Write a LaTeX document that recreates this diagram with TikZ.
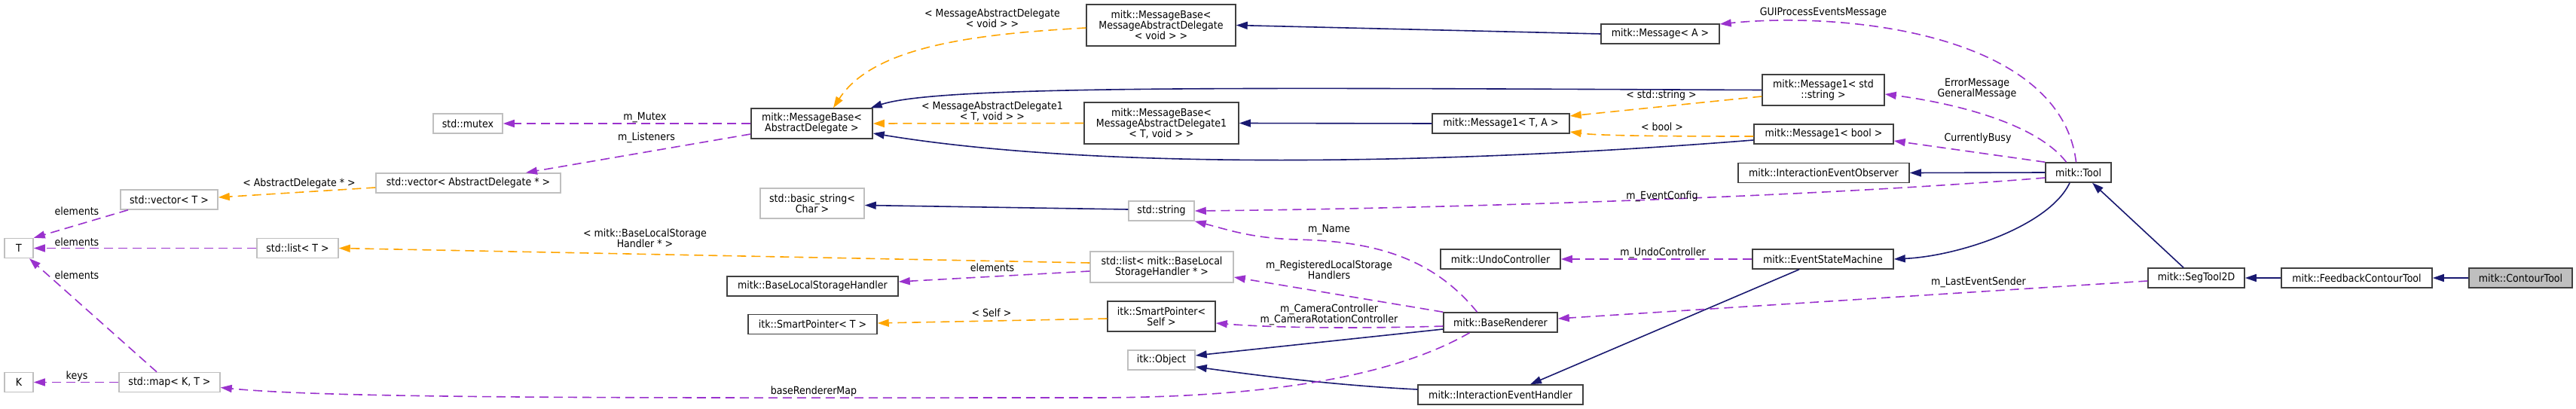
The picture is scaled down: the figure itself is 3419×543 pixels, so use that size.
\documentclass[tikz,border=0pt]{standalone}
\usepackage{fontspec}
\setmainfont{DejaVu Sans}[FakeStretch=0.9]
\usetikzlibrary{arrows.meta}
\definecolor{inhblue}{HTML}{191970}
\definecolor{tplorange}{HTML}{FFA500}
\definecolor{usepurple}{HTML}{9A32CD}
\definecolor{extgrey}{HTML}{BFBFBF}
\begin{document}
\begin{tikzpicture}[x=1pt, y=-1pt,
  every node/.style={font=\fontsize{14}{14}\selectfont, align=center, inner sep=0pt},
  cls/.style={draw=black!75, line width=1.5pt, fill=white, minimum height=26pt},
  extcls/.style={cls, draw=extgrey},
  curcls/.style={cls, fill=extgrey},
  lbl/.style={inner sep=0pt},
  inherit/.style={draw=inhblue, line width=1.6pt, -{Triangle[length=15pt,width=10pt]}},
  templ/.style={draw=tplorange, line width=1.6pt, dash pattern=on 12pt off 7pt, -{Triangle[length=15pt,width=10pt]}},
  usage/.style={draw=usepurple, line width=1.6pt, dash pattern=on 12pt off 7pt, -{Triangle[length=15pt,width=10pt]}}]
\useasboundingbox (0,0) rectangle (3419,543);
% classes
\node[extcls, minimum width=38pt] (t) at (25,329.5) {T};
\node[extcls, minimum width=38pt] (k) at (25,507.5) {K};
\node[extcls, minimum width=129pt] (vect) at (224.5,265) {std::vector< T >};
\node[extcls, minimum width=108pt] (listt) at (395,329.5) {std::list< T >};
\node[extcls, minimum width=134pt] (mapkt) at (225,507.5) {std::map< K, T >};
\node[extcls, minimum width=92pt] (mutex) at (621,164) {std::mutex};
\node[extcls, minimum width=245pt] (vecad) at (621.5,243) {std::vector< AbstractDelegate * >};
\node[cls, minimum width=161pt, minimum height=40pt] (mbad) at (1077.5,164) {mitk::MessageBase<\\AbstractDelegate >};
\node[extcls, minimum width=138pt, minimum height=40pt] (bstr) at (1078,270) {std::basic\_string<\\Char >};
\node[cls, minimum width=227pt] (blsh) at (1078.5,380) {mitk::BaseLocalStorageHandler};
\node[cls, minimum width=171pt] (spt) at (1078.5,430.5) {itk::SmartPointer< T >};
\node[cls, minimum width=198pt, minimum height=55pt] (mbmad) at (1541,33.5) {mitk::MessageBase<\\MessageAbstractDelegate\\< void > >};
\node[cls, minimum width=205pt, minimum height=55pt] (mbmad1) at (1541.5,163.5) {mitk::MessageBase<\\MessageAbstractDelegate1\\< T, void > >};
\node[extcls, minimum width=87pt] (str) at (1541.5,280) {std::string};
\node[extcls, minimum width=190pt, minimum height=41pt] (listblsh) at (1542,354.5) {std::list< mitk::BaseLocal\\StorageHandler * >};
\node[cls, minimum width=143pt, minimum height=40pt] (spself) at (1541.5,420) {itk::SmartPointer<\\Self >};
\node[extcls, minimum width=89pt] (itkobj) at (1541.5,478) {itk::Object};
\node[cls, minimum width=182pt] (msg1ta) at (1992,164) {mitk::Message1< T, A >};
\node[cls, minimum width=159pt] (undo) at (1991.5,344) {mitk::UndoController};
\node[cls, minimum width=151pt] (br) at (1991.5,428) {mitk::BaseRenderer};
\node[cls, minimum width=219pt] (ieh) at (1991.5,524) {mitk::InteractionEventHandler};
\node[cls, minimum width=157pt] (msga) at (2203.5,45) {mitk::Message< A >};
\node[cls, minimum width=162pt, minimum height=41pt] (msg1str) at (2420,119.5) {mitk::Message1< std\\::string >};
\node[cls, minimum width=185pt] (msg1bool) at (2420.5,178) {mitk::Message1< bool >};
\node[cls, minimum width=227pt] (ieo) at (2420.5,229.5) {mitk::InteractionEventObserver};
\node[cls, minimum width=187pt] (esm) at (2419.5,344) {mitk::EventStateMachine};
\node[cls, minimum width=87pt] (tool) at (2758.5,229) {mitk::Tool};
\node[cls, minimum width=128pt] (seg) at (2915,369) {mitk::SegTool2D};
\node[cls, minimum width=200pt] (fct) at (3128,369) {mitk::FeedbackContourTool};
\node[curcls, minimum width=137pt] (ct) at (3345.5,369) {mitk::ContourTool};
% inheritance
\draw[inherit] (msga.west) -- (mbmad.east);
\draw[inherit] (msg1ta.west) -- (mbmad1.east);
\draw[inherit] (msg1str.west) .. controls (1700,117) and (1250,112) .. ([xshift=-3pt]mbad.north east);
\draw[inherit] ([yshift=-8pt]msg1bool.west) .. controls (1900,220) and (1450,225) .. ([yshift=-13pt]mbad.east);
\draw[inherit] (tool.west) -- (ieo.east);
\draw[inherit] ([xshift=-11.5pt]tool.south) .. controls (2720,300) and (2600,340) .. (esm.east);
\draw[inherit] ([xshift=-17pt]seg.north) -- ([xshift=18.5pt]tool.south);
\draw[inherit] (fct.west) -- (seg.east);
\draw[inherit] (ct.west) -- (fct.east);
\draw[inherit] ([xshift=-31.5pt]esm.south) -- ([xshift=39.5pt]ieh.north);
\draw[inherit] ([yshift=-9pt]br.west) -- ([yshift=6pt]itkobj.east);
\draw[inherit] ([yshift=7pt]ieh.west) .. controls (1780,512) and (1680,500) .. ([yshift=-9pt]itkobj.east);
\draw[inherit] ([yshift=2pt]str.west) -- ([yshift=-2.5pt]bstr.east);
% template instances
\draw[templ] ([yshift=-3.5pt]mbmad.west) .. controls (1300,45) and (1160,60) .. ([xshift=28.5pt]mbad.north);
\draw[templ] (mbmad1.west) -- (mbad.east);
\draw[templ] ([yshift=-8.5pt]msg1str.west) -- ([yshift=10pt]msg1ta.east);
\draw[templ] ([yshift=-3pt]msg1bool.west) .. controls (2200,181) and (2120,180) .. ([yshift=-11pt]msg1ta.east);
\draw[templ] ([yshift=-6pt]vecad.west) -- ([yshift=3pt]vect.east);
\draw[templ] ([yshift=5.5pt]listblsh.west) -- (listt.east);
\draw[templ] ([yshift=-3pt]spself.west) -- ([yshift=1.5pt]spt.east);
\node[lbl] (lmbmad) at (1317,24.5) {< MessageAbstractDelegate\\< void > >};
\node[lbl] (lmbmad1) at (1317,148) {< MessageAbstractDelegate1\\< T, void > >};
\node[lbl] (lstdstr) at (2205,127) {< std::string >};
\node[lbl] (lbool) at (2206,168) {< bool >};
\node[lbl] (lad) at (397,244) {< AbstractDelegate * >};
\node[lbl] (lblsh) at (856,316) {< mitk::BaseLocalStorage\\Handler * >};
\node[lbl] (lself) at (1316,415) {< Self >};
% members
\draw[usage] (mbad.west) -- (mutex.east);
\draw[usage] ([yshift=-14pt]mbad.west) -- ([xshift=76.5pt]vecad.north);
\draw[usage] ([xshift=-54.5pt]vect.south) -- (t.north east);
\draw[usage] (listt.west) -- (t.east);
\draw[usage] ([xshift=-17pt]mapkt.north) -- ([xshift=14pt]t.south);
\draw[usage] (mapkt.west) -- (k.east);
\draw[usage] ([xshift=-41pt]br.south) .. controls (1850,500) and (1680,528) .. (1450,528)
  .. controls (900,528) and (450,530) .. ([yshift=-7pt]mapkt.east);
\draw[usage] ([yshift=-5.5pt]listblsh.west) -- ([yshift=6pt]blsh.east);
\draw[usage] ([xshift=-31pt]br.north) .. controls (1900,340) and (1820,320) .. (1720,318)
  .. controls (1660,316) and (1630,305) .. (str.south east);
\draw[usage] (br.north west) -- ([yshift=-13.5pt]listblsh.east);
\draw[usage] ([yshift=-5pt]br.west) .. controls (1820,436) and (1700,436) .. ([yshift=-9pt]spself.east);
\draw[usage] (esm.west) -- (undo.east);
\draw[usage] ([yshift=-4pt]seg.west) -- ([yshift=5pt]br.east);
\draw[usage] ([yshift=-7pt]tool.west) .. controls (2400,262) and (1900,277) .. (str.east);
\draw[usage] ([xshift=-3pt]tool.north) .. controls (2735,45) and (2450,15) .. ([yshift=13pt]msga.east);
\draw[usage] ([xshift=-16pt]tool.north) .. controls (2700,160) and (2580,135) .. ([yshift=-5.5pt]msg1str.east);
\draw[usage] (tool.north west) -- ([yshift=-9pt]msg1bool.east);
\node[lbl] (lmutex) at (856,156) {m\_Mutex};
\node[lbl] (llisten) at (858,183) {m\_Listeners};
\node[lbl] (lelvec) at (102,280) {elements};
\node[lbl] (lellist) at (102,321) {elements};
\node[lbl] (lelmap) at (102,365) {elements};
\node[lbl] (lkeys) at (102,500) {keys};
\node[lbl] (lbrmap) at (1080,520) {baseRendererMap};
\node[lbl] (lelblsh) at (1317,355) {elements};
\node[lbl] (lname) at (1764,305) {m\_Name};
\node[lbl] (lreg) at (1764,358) {m\_RegisteredLocalStorage\\Handlers};
\node[lbl] (lcam) at (1764,418) {m\_CameraController\\m\_CameraRotationController};
\node[lbl] (lundo) at (2207,336) {m\_UndoController};
\node[lbl] (lsender) at (2626,375) {m\_LastEventSender};
\node[lbl] (lconfig) at (2206,261) {m\_EventConfig};
\node[lbl] (lgui) at (2420,17) {GUIProcessEventsMessage};
\node[lbl] (lerr) at (2624,118) {ErrorMessage\\GeneralMessage};
\node[lbl] (lbusy) at (2625,184) {CurrentlyBusy};
\end{tikzpicture}
\end{document}
